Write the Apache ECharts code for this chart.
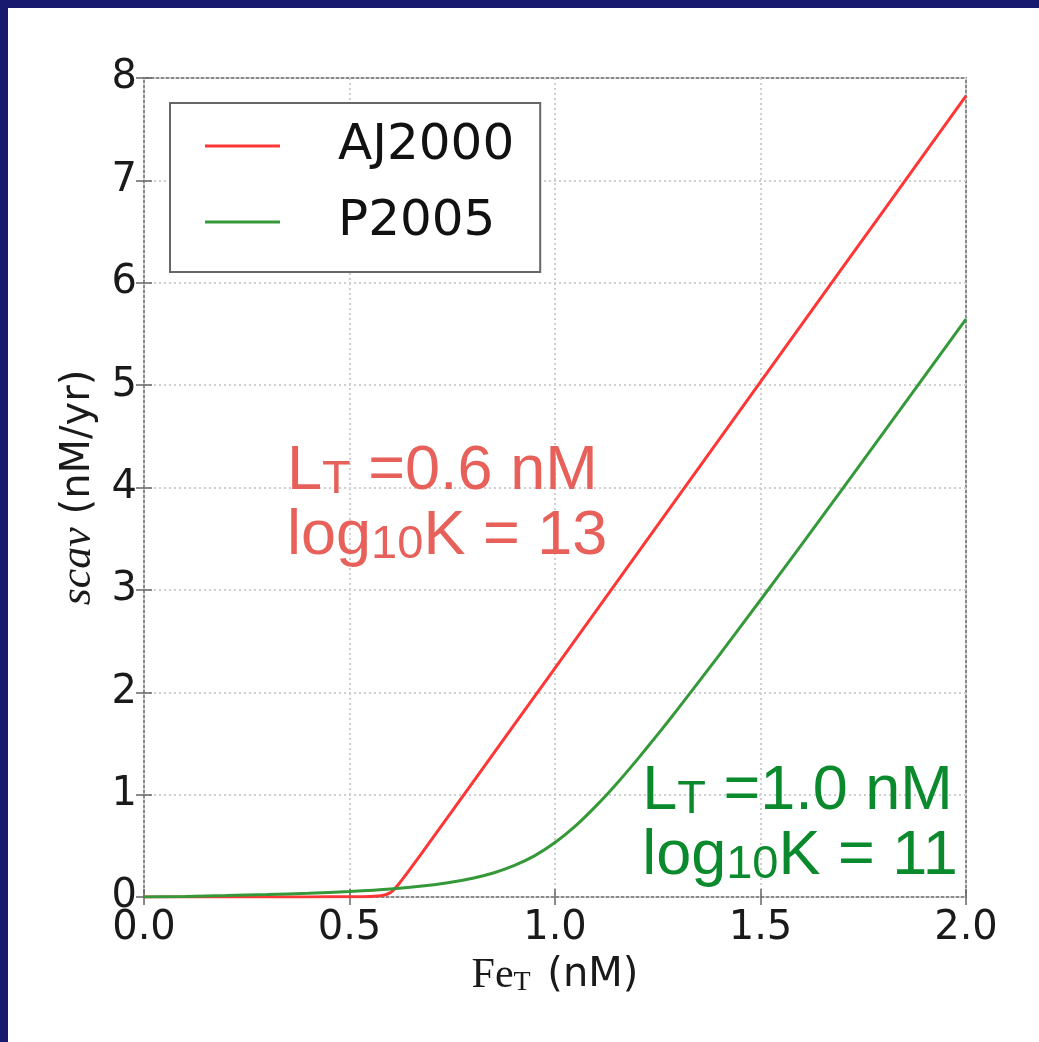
<!DOCTYPE html>
<html>
<head>
<meta charset="utf-8">
<script src="https://cdn.jsdelivr.net/npm/echarts@6/dist/echarts.min.js"></script>
<style>
  html, body { margin: 0; padding: 0; background: #ffffff; }
  #chart { width: 1039px; height: 1042px; }
</style>
</head>
<body>
<div id="chart"></div>
<script>
// Total iron (nM) and scavenging rate (nM/yr) for the two ligand models
const feT_AJ2000 = [0, 0.1, 0.2, 0.3, 0.4, 0.5, 0.55, 0.58, 0.6, 0.62, 0.65, 0.7, 0.8, 1.0, 1.2, 1.4, 1.6, 1.8, 2.0];
const scav_AJ2000 = [0, 0, 0, 0.001, 0.001, 0.003, 0.006, 0.014, 0.043, 0.127, 0.286, 0.562, 1.12, 2.236, 3.354, 4.472, 5.59, 6.708, 7.826];

const feT_P2005 = [0, 0.1, 0.2, 0.3, 0.4, 0.5, 0.6, 0.7, 0.75, 0.8, 0.85, 0.9, 0.95, 1.0, 1.05, 1.1, 1.15, 1.2, 1.25, 1.3, 1.4, 1.5, 1.6, 1.7, 1.8, 1.9, 2.0];
const scav_P2005 = [0, 0.006, 0.014, 0.024, 0.036, 0.054, 0.079, 0.118, 0.147, 0.184, 0.235, 0.306, 0.402, 0.532, 0.695, 0.890, 1.107, 1.342, 1.588, 1.842, 2.365, 2.901, 3.443, 3.990, 4.540, 5.092, 5.645];

const seriesNames = ['AJ2000', 'P2005'];

// Axis ranges and tick spacing
const xRange = [0, 2.0];
const xStep = 0.5;
const yRange = [0, 8];
const yStep = 1;

// Parameter annotations
const noteAJ2000 = { lt: '0.6', logK: '13', at: [0.348, 4.48] };
const noteP2005 = { lt: '1.0', logK: '11', at: [1.212, 1.353] };

const pair = (xs, ys) => xs.map((x, i) => [x, ys[i]]);

const NAVY = '#171a6e';
const tickFont = 'DejaVu Sans';

const chart = echarts.init(document.getElementById('chart'), null, { renderer: 'canvas' });

const gridLine = { show: true, lineStyle: { color: '#cfcfcf', width: 2, type: [2, 3] } };
const innerTick = { show: true, inside: true, length: 8, lineStyle: { color: '#666', width: 1.5 } };

const option = {
  backgroundColor: '#ffffff',
  animation: false,
  grid: {
    left: 144, top: 78, right: 73, bottom: 145,
    show: true, borderColor: '#8a8a8a', borderWidth: 2, backgroundColor: 'transparent'
  },
  legend: {
    orient: 'vertical',
    left: 170, top: 103,
    padding: [15, 26, 22, 35],
    itemGap: 20,
    itemWidth: 75, itemHeight: 3,
    icon: 'rect',
    borderColor: '#666', borderWidth: 2,
    backgroundColor: '#ffffff',
    textStyle: { fontFamily: tickFont, fontSize: 50, color: '#111', lineHeight: 56, padding: [0, 0, 0, 53] },
    data: seriesNames
  },
  xAxis: [{
    type: 'value', min: xRange[0], max: xRange[1], interval: xStep,
    axisLine: { show: false },
    axisTick: innerTick,
    splitLine: gridLine,
    axisLabel: { fontFamily: tickFont, fontSize: 40, color: '#1a1a1a', margin: 12,
      formatter: v => v.toFixed(1) },
    name: '{fe|Fe}{sub|T}{t| (nM)}',
    nameLocation: 'middle', nameGap: 58,
    nameTextStyle: {
      fontFamily: tickFont, fontSize: 40, color: '#1a1a1a',
      rich: {
        fe: { fontFamily: 'Liberation Serif', fontSize: 42, color: '#1a1a1a' },
        sub: { fontFamily: 'Liberation Serif', fontSize: 28, color: '#1a1a1a', verticalAlign: 'bottom', padding: [0, 4, 0, 0] },
        t: { fontFamily: tickFont, fontSize: 40, color: '#1a1a1a' }
      }
    }
  }, {
    type: 'value', position: 'top', min: xRange[0], max: xRange[1], interval: xStep,
    axisLine: { show: false }, axisTick: innerTick, splitLine: { show: false }, axisLabel: { show: false }
  }],
  yAxis: [{
    type: 'value', min: yRange[0], max: yRange[1], interval: yStep,
    axisLine: { show: false },
    axisTick: innerTick,
    splitLine: gridLine,
    axisLabel: { fontFamily: tickFont, fontSize: 40, color: '#1a1a1a', margin: 7 },
    name: '{i|scav}{t| (nM/yr)}',
    nameLocation: 'middle', nameGap: 42, nameRotate: 90,
    nameTextStyle: {
      fontFamily: tickFont, fontSize: 40, color: '#1a1a1a',
      rich: {
        i: { fontFamily: 'Liberation Serif', fontStyle: 'italic', fontSize: 44, color: '#1a1a1a' },
        t: { fontFamily: tickFont, fontSize: 40, color: '#1a1a1a' }
      }
    }
  }, {
    type: 'value', position: 'right', min: yRange[0], max: yRange[1], interval: yStep,
    axisLine: { show: false }, axisTick: innerTick, splitLine: { show: false }, axisLabel: { show: false }
  }],
  series: [{
    name: seriesNames[0], type: 'line', xAxisIndex: 0, yAxisIndex: 0,
    data: pair(feT_AJ2000, scav_AJ2000),
    showSymbol: false, symbol: 'none', smooth: 0.2,
    color: '#ff3636',
    lineStyle: { color: '#ff3636', width: 3 }
  }, {
    name: seriesNames[1], type: 'line', xAxisIndex: 0, yAxisIndex: 0,
    data: pair(feT_P2005, scav_P2005),
    showSymbol: false, symbol: 'none', smooth: 0.2,
    color: '#35993a',
    lineStyle: { color: '#35993a', width: 3 }
  }],
  graphic: [
    { id: 'frameTop', type: 'rect', left: 0, top: 0, shape: { width: 1039, height: 8 }, style: { fill: NAVY }, z: 100 },
    { id: 'frameLeft', type: 'rect', left: 0, top: 0, shape: { width: 8, height: 1042 }, style: { fill: NAVY }, z: 100 }
  ]
};

chart.setOption(option);

// Parameter labels, anchored in data coordinates
function noteText(n) {
  return '{b|L}{s|T}{b| =' + n.lt + ' nM}\n{b|log}{s|10}{b|K = ' + n.logK + '}';
}
function noteRich(color) {
  return {
    b: { fontFamily: 'Liberation Sans', fontSize: 63, lineHeight: 65, fill: color, verticalAlign: 'bottom' },
    s: { fontFamily: 'Liberation Sans', fontSize: 47, lineHeight: 65, fill: color, verticalAlign: 'bottom' }
  };
}
const pA = chart.convertToPixel({ gridIndex: 0 }, noteAJ2000.at);
const pP = chart.convertToPixel({ gridIndex: 0 }, noteP2005.at);

chart.setOption({
  graphic: [
    { id: 'frameTop', type: 'rect', left: 0, top: 0, shape: { width: 1039, height: 8 }, style: { fill: NAVY }, z: 100 },
    { id: 'frameLeft', type: 'rect', left: 0, top: 0, shape: { width: 8, height: 1042 }, style: { fill: NAVY }, z: 100 },
    { id: 'noteA', type: 'text', x: pA[0], y: pA[1], z: 50,
      style: { text: noteText(noteAJ2000), fill: '#e8605a', align: 'left', verticalAlign: 'top', rich: noteRich('#e8605a') } },
    { id: 'noteP', type: 'text', x: pP[0], y: pP[1], z: 50,
      style: { text: noteText(noteP2005), fill: '#0a8a2c', align: 'left', verticalAlign: 'top', rich: noteRich('#0a8a2c') } }
  ]
});
</script>
</body>
</html>
